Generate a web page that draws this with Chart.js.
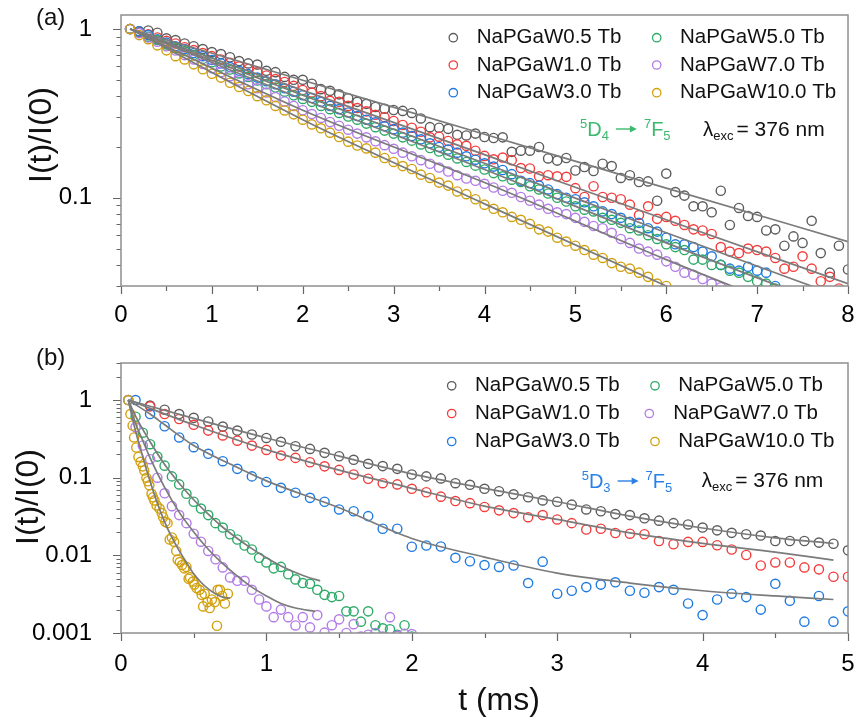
<!DOCTYPE html>
<html>
<head>
<meta charset="utf-8">
<script src="https://cdn.jsdelivr.net/npm/chart.js@4/dist/chart.umd.min.js"></script>
<style>
  html, body { margin: 0; padding: 0; background: #fff; }
  #wrap { position: relative; width: 856px; height: 718px; overflow: hidden; }
  #wrap canvas { position: absolute; left: 0; }
  #cA { top: 0; }
  #cB { top: 330px; }
</style>
</head>
<body>
<div id="wrap">
  <canvas id="cA" width="856" height="330"></canvas>
  <canvas id="cB" width="856" height="388"></canvas>
</div>
<script>
const FONT = '"Liberation Sans", Arial, Helvetica, sans-serif';

const seriesNames = ['NaPGaW0.5 Tb', 'NaPGaW1.0 Tb', 'NaPGaW3.0 Tb', 'NaPGaW5.0 Tb', 'NaPGaW7.0 Tb', 'NaPGaW10.0 Tb'];
const seriesColors = ['#5c5c5c', '#f23d3d', '#1f7ae0', '#2eaa68', '#b27ce6', '#d2a10f'];
const FIT_COLOR = '#7b7b7b';
const FRAME_COLOR = '#8f8f8f';
const TICK_COLOR = '#666666';

// ---------- panel (a): 5D4 -> 7F5 decay, t in ms ----------
const tA = [0.1,0.2,0.3,0.4,0.5,0.6,0.7,0.8,0.9,1.0,
  1.1,1.2,1.3,1.4,1.5,1.6,1.7,1.8,1.9,2.0,
  2.1,2.2,2.3,2.4,2.5,2.6,2.7,2.8,2.9,3.0,
  3.1,3.2,3.3,3.4,3.5,3.6,3.7,3.8,3.9,4.0,
  4.1,4.2,4.3,4.4,4.5,4.6,4.7,4.8,4.9,5.0,
  5.1,5.2,5.3,5.4,5.5,5.6,5.7,5.8,5.9,6.0,
  6.1,6.2,6.3,6.4,6.5,6.6,6.7,6.8,6.9,7.0,
  7.1,7.2,7.3,7.4,7.5,7.6,7.7,7.8,7.9,8.0];

const grayA = [1.00,0.97,0.98,0.95,0.88,0.86,0.82,0.79,0.76,0.73,
  0.71,0.68,0.645,0.625,0.615,0.565,0.555,0.52,0.50,0.50,
  0.474,0.44,0.43,0.41,0.389,0.37,0.36,0.345,0.337,0.331,
  0.327,0.318,0.295,0.262,0.26,0.256,0.236,0.234,0.24,0.229,
  0.226,0.228,0.187,0.19,0.19,0.20,0.171,0.166,0.172,0.145,
  0.152,0.144,0.159,0.154,0.131,0.136,0.124,0.125,0.096,0.139,
  0.108,0.103,0.089,0.089,0.082,0.11,0.069,0.087,0.078,0.077,
  0.064,0.065,0.052,0.059,0.054,0.073,0.047,0.036,0.052,0.0376];

const redA = [1.0,0.96,0.93,0.89,0.85,0.82,0.78,0.75,0.72,0.69,
  0.66,0.63,0.60,0.58,0.555,0.53,0.505,0.485,0.46,0.435,
  0.42,0.40,0.375,0.37,0.35,0.34,0.325,0.31,0.30,0.285,
  0.27,0.26,0.246,0.228,0.23,0.217,0.207,0.203,0.19,0.177,
  0.169,0.173,0.167,0.15,0.149,0.134,0.136,0.134,0.133,0.114,
  0.101,0.117,0.101,0.10,0.098,0.091,0.079,0.089,0.075,0.077,
  0.073,0.069,0.065,0.064,0.061,0.051,0.048,0.047,0.05,0.049,
  0.048,0.044,0.038,0.039,0.045,0.038,0.032,0.034,0.029,0.028];

const blueA = [1.0,0.97,0.92,0.87,0.83,0.79,0.76,0.72,0.69,0.655,
  0.625,0.595,0.565,0.54,0.515,0.49,0.47,0.445,0.425,0.405,
  0.39,0.37,0.35,0.335,0.32,0.305,0.29,0.28,0.265,0.255,
  0.243,0.232,0.222,0.21,0.20,0.193,0.185,0.176,0.168,0.16,
  0.153,0.146,0.138,0.126,0.122,0.118,0.112,0.105,0.10,0.098,
  0.094,0.089,0.083,0.08,0.076,0.072,0.071,0.066,0.063,0.058,
  0.053,0.053,0.051,0.048,0.045,0.04,0.038,0.037,0.039,0.037,
  0.036,0.030,0.028];

const greenA = [1.0,0.95,0.90,0.86,0.81,0.77,0.74,0.70,0.665,0.635,
  0.60,0.575,0.545,0.52,0.495,0.47,0.45,0.425,0.405,0.385,
  0.37,0.35,0.335,0.318,0.303,0.29,0.275,0.262,0.25,0.24,
  0.228,0.218,0.207,0.197,0.188,0.18,0.171,0.163,0.155,0.147,
  0.14,0.134,0.128,0.124,0.117,0.112,0.106,0.10,0.095,0.089,
  0.085,0.083,0.076,0.074,0.071,0.066,0.064,0.06,0.057,0.053,
  0.051,0.049,0.043,0.043,0.04,0.04,0.037,0.036,0.034,0.032,
  0.031,0.029];

const purpleA = [1.0,0.945,0.89,0.84,0.79,0.745,0.70,0.66,0.62,0.585,
  0.555,0.525,0.495,0.47,0.445,0.42,0.395,0.372,0.35,0.33,
  0.313,0.297,0.281,0.267,0.253,0.24,0.228,0.216,0.205,0.195,
  0.185,0.176,0.167,0.159,0.151,0.143,0.136,0.13,0.126,0.121,
  0.115,0.11,0.107,0.101,0.096,0.091,0.086,0.082,0.08,0.076,
  0.072,0.068,0.066,0.062,0.057,0.054,0.05,0.048,0.046,0.042,
  0.039,0.036,0.035,0.033,0.031,0.0295,0.028];

const goldA = [1.0,0.92,0.87,0.80,0.747,0.69,0.66,0.617,0.577,0.543,
  0.515,0.48,0.453,0.429,0.40,0.378,0.35,0.329,0.312,0.29,
  0.272,0.258,0.243,0.229,0.215,0.204,0.196,0.185,0.172,0.163,
  0.154,0.148,0.137,0.131,0.123,0.118,0.109,0.105,0.098,0.091,
  0.086,0.082,0.077,0.074,0.07,0.065,0.063,0.058,0.055,0.052,
  0.049,0.046,0.044,0.041,0.039,0.038,0.036,0.034,0.031,0.030,
  0.028];

// fitted decay curves, panel (a)
const tFitA = [0.1, 2, 4, 6, 8];
const grayFitA = [1, 0.497, 0.238, 0.114, 0.055];
const redFitA = [1, 0.433, 0.180, 0.074, 0.031];
const blueFitA = [1, 0.405, 0.160, 0.062, 0.025];
const greenFitA = [1, 0.383, 0.147, 0.054, 0.021];
const purpleFitA = [1, 0.33, 0.123, 0.043, 0.016];
const goldFitA = [1, 0.29, 0.092, 0.030, 0.010];

// ---------- panel (b): 5D3 -> 7F5 decay ----------
const tB = [0.1,0.2,0.3,0.4,0.5,0.6,0.7,0.8,0.9,1.0,
  1.1,1.2,1.3,1.4,1.5,1.6,1.7,1.8,1.9,2.0,
  2.1,2.2,2.3,2.4,2.5,2.6,2.7,2.8,2.9,3.0,
  3.1,3.2,3.3,3.4,3.5,3.6,3.7,3.8,3.9,4.0,
  4.1,4.2,4.3,4.4,4.5,4.6,4.7,4.8,4.9,5.0];

const grayB = [null,0.85,0.75,0.66,0.59,0.53,0.455,0.404,0.36,0.325,
  0.29,0.254,0.235,0.209,0.189,0.17,0.151,0.141,0.13,0.11,
  0.104,0.098,0.085,0.081,0.072,0.067,0.061,0.056,0.051,0.049,
  0.045,0.039,0.037,0.034,0.033,0.030,0.028,0.026,0.025,0.0228,
  0.021,0.0195,0.0187,0.018,0.0153,0.0153,0.0153,0.0146,0.0141,0.0116];

const redB = [null,0.83,0.66,0.57,0.48,0.404,0.35,0.30,0.259,0.228,
  0.193,0.18,0.158,0.14,0.126,0.11,0.097,0.085,0.082,0.072,
  0.065,0.057,0.05,0.047,0.042,0.038,0.035,0.031,0.033,0.029,
  0.026,0.0215,0.022,0.0194,0.019,0.0187,0.0153,0.0139,0.0149,0.0149,
  0.0135,0.0119,0.0101,0.0074,0.0081,0.0081,0.0070,0.0066,0.0053,0.0053];

const blueB = [1.0,0.66,0.46,0.33,0.247,0.203,0.163,0.13,0.104,0.088,
  0.074,0.064,0.055,0.049,0.039,0.037,0.032,0.022,0.022,0.0129,
  0.0134,0.013,0.0093,0.0084,0.0075,0.0071,0.0074,0.0044,0.0083,0.0032,
  0.0035,0.0039,0.0042,0.0045,0.0035,0.0033,0.0039,0.0036,0.0024,0.0017,
  0.0027,0.0032,0.0029,0.002,0.0043,0.0026,0.0014,0.003,0.0014,0.0019];

const tGP = [0.05,0.10,0.15,0.20,0.25,0.30,0.35,0.40,0.45,0.50,
  0.55,0.60,0.65,0.70,0.75,0.80,0.85,0.90,0.95,1.00,
  1.05,1.10,1.15,1.20,1.25,1.30,1.35,1.40,1.45,1.50,
  1.55,1.60,1.65,1.70,1.75,1.80,1.85,1.90,1.95,2.00];

const greenB = [1.0,0.61,0.38,0.27,0.187,0.143,0.104,0.082,0.062,0.049,
  0.04,0.033,0.026,0.0228,0.0187,0.016,0.0134,0.0119,0.0093,0.0081,
  0.0068,0.0071,0.0057,0.0049,0.0044,0.0043,0.0036,0.0031,0.0029,0.003,
  0.0019,0.0019,0.0014,0.0019,0.00126,0.00115,0.00112,0.00095,0.00126,0.0009];

const purpleB = [1.0,0.445,0.26,0.173,0.10,0.063,0.043,0.033,0.026,0.019,
  0.015,0.0114,0.0089,0.007,0.0052,0.0047,0.0047,0.0036,0.0027,0.0022,
  0.0016,0.002,0.0016,0.00125,0.0016,0.00118,0.0017,0.00101,0.00126,0.0015,
  0.001,0.0013,0.0009,0.00095,0.001,0.0009,0.0016,0.00092,0.00098,0.00097];

const tGoldB = [0.05,0.065,0.08,0.09,0.105,0.12,0.135,0.15,0.16,0.175,
  0.185,0.195,0.21,0.22,0.23,0.245,0.265,0.28,0.29,0.305,
  0.32,0.335,0.35,0.365,0.38,0.39,0.405,0.42,0.435,0.45,
  0.465,0.475,0.495,0.505,0.52,0.54,0.555,0.565,0.575,0.595,
  0.61,0.625,0.645,0.66,0.665,0.68,0.695,0.715,0.735];
const goldB = [1.0,0.66,0.47,0.33,0.245,0.185,0.16,0.14,0.124,0.10,
  0.09,0.08,0.062,0.056,0.051,0.044,0.040,0.035,0.031,0.027,
  0.026,0.016,0.017,0.015,0.0114,0.0088,0.0082,0.0075,0.0068,0.0071,
  0.005,0.0052,0.0046,0.0042,0.0038,0.0036,0.0031,0.0022,0.0032,0.0025,
  0.0021,0.0027,0.0025,0.00124,0.0036,0.0036,0.003,0.0024,0.0032];

// fitted decay curves, panel (b)
const tFitGrayB = [0.05,0.5,1,1.5,2,2.5,3,3.5,4,4.5,4.9];
const grayFitB = [1,0.58,0.325,0.19,0.112,0.073,0.049,0.032,0.0225,0.0168,0.0142];
const tFitRedB = [0.05,0.5,1,1.5,2,2.5,3,3.5,4,4.5,4.9];
const redFitB = [1,0.48,0.23,0.125,0.073,0.043,0.029,0.0195,0.0143,0.011,0.0087];
const tFitBlueB = [0.05,0.2,0.3,0.5,0.75,1,1.5,2,2.5,3,3.5,4,4.5,4.9];
const blueFitB = [1,0.66,0.48,0.26,0.15,0.091,0.041,0.0165,0.0095,0.0059,0.0044,0.0035,0.003,0.0027];
const tFitGreenB = [0.05,0.1,0.2,0.3,0.4,0.5,0.6,0.7,0.8,0.9,1.0,1.1,1.2,1.3,1.37];
const greenFitB = [1,0.62,0.29,0.148,0.085,0.052,0.034,0.023,0.0165,0.0122,0.0093,0.0073,0.006,0.0051,0.0047];
const tFitPurpleB = [0.05,0.1,0.15,0.2,0.3,0.4,0.5,0.6,0.7,0.8,0.9,1.0,1.1,1.2,1.335];
const purpleFitB = [1,0.5,0.3,0.18,0.075,0.036,0.02,0.012,0.0078,0.0054,0.0039,0.003,0.0024,0.0021,0.0019];
const tFitGoldB = [0.05,0.075,0.1,0.15,0.2,0.25,0.3,0.35,0.4,0.45,0.5,0.55,0.6,0.65,0.7,0.75];
const goldFitB = [1,0.62,0.4,0.185,0.09,0.047,0.027,0.017,0.0115,0.0081,0.0058,0.0045,0.0037,0.0032,0.0029,0.0028];

// axis tick labels
const xLabelsA = [0,1,2,3,4,5,6,7,8];
const xLabelsB = [0,1,2,3,4,5];
const yLabelsA = [0.1, 1];
const yLabelsB = [0.001, 0.01, 0.1, 1];

// ---------- helpers ----------
function pts(xs, ys) {
  const out = [];
  ys.forEach((y, i) => { if (y !== null) out.push({ x: xs[i], y }); });
  return out;
}

function scatterSet(idx, xs, ys) {
  const c = seriesColors[idx];
  return {
    label: seriesNames[idx], data: pts(xs, ys), showLine: false,
    pointStyle: 'circle', pointRadius: 4.6, pointBorderWidth: 1.4,
    pointBackgroundColor: 'rgba(0,0,0,0)', pointBorderColor: c,
    borderColor: c, backgroundColor: 'rgba(0,0,0,0)',
    order: 6 - idx, clip: 0
  };
}

function fitSet(xs, ys) {
  return {
    label: '', data: pts(xs, ys), showLine: true, pointRadius: 0,
    borderColor: FIT_COLOR, borderWidth: 1.7, cubicInterpolationMode: 'monotone',
    fill: false, order: 0, clip: 0
  };
}

function richText(ctx, x, base, parts, color) {
  ctx.fillStyle = color; ctx.strokeStyle = color;
  ctx.textAlign = 'left'; ctx.textBaseline = 'alphabetic';
  for (const p of parts) {
    if (p.arrow) {
      x += p.pre;
      const y = base + p.dy;
      ctx.lineWidth = 1.4;
      ctx.beginPath(); ctx.moveTo(x, y); ctx.lineTo(x + p.arrow - 5, y); ctx.stroke();
      ctx.beginPath(); ctx.moveTo(x + p.arrow, y); ctx.lineTo(x + p.arrow - 7, y - 3.5);
      ctx.lineTo(x + p.arrow - 7, y + 3.5); ctx.closePath(); ctx.fill();
      x += p.arrow + p.post;
      continue;
    }
    ctx.font = p.size + 'px ' + FONT;
    ctx.fillText(p.text, x, base + (p.dy || 0));
    x += ctx.measureText(p.text).width + (p.gap || 0);
  }
}

function decorPlugin(cfg) {
  return {
    id: 'decor',
    afterDatasetsDraw(chart) {
      const ctx = chart.ctx, a = chart.chartArea;
      const xs = chart.scales.x, ys = chart.scales.y;
      ctx.save();
      // outward tick marks
      ctx.strokeStyle = TICK_COLOR; ctx.lineWidth = 1.2;
      ctx.beginPath();
      for (let i = 0; i <= cfg.xMax * 2; i++) {
        const px = Math.round(xs.getPixelForValue(i / 2)) + 0.5;
        const len = i % 2 === 0 ? 8 : 5;
        ctx.moveTo(px, a.bottom); ctx.lineTo(px, a.bottom + len);
      }
      for (const d of cfg.decades) {
        for (let m = 1; m <= 9; m++) {
          const v = m * d;
          if (v < ys.min * 0.999 || v > ys.max * 1.001) continue;
          const py = Math.round(ys.getPixelForValue(v)) + 0.5;
          const len = m === 1 ? 8 : 4.5;
          ctx.moveTo(a.left, py); ctx.lineTo(a.left - len, py);
        }
      }
      ctx.stroke();
      // frame
      ctx.strokeStyle = FRAME_COLOR; ctx.lineWidth = 1.5;
      ctx.strokeRect(a.left, a.top, a.right - a.left, a.bottom - a.top);

      // legend in two columns
      ctx.font = '20.5px ' + FONT;
      ctx.textBaseline = 'middle'; ctx.textAlign = 'left';
      cfg.legend.forEach((it, i) => {
        ctx.strokeStyle = seriesColors[i]; ctx.lineWidth = 1.3;
        ctx.beginPath(); ctx.arc(it.mx, it.y, 4.2, 0, Math.PI * 2); ctx.stroke();
        ctx.fillStyle = '#111';
        ctx.fillText(seriesNames[i], it.tx, it.y);
      });

      // transition label and excitation wavelength
      richText(ctx, cfg.trans.x, cfg.trans.base, [
        { text: '5', size: 13, dy: -8 }, { text: 'D', size: 20 }, { text: cfg.trans.sub, size: 13, dy: 4 },
        { arrow: 21, pre: 7, post: 7, dy: -7 },
        { text: '7', size: 13, dy: -8 }, { text: 'F', size: 20 }, { text: '5', size: 13, dy: 4 }
      ], cfg.trans.color);
      richText(ctx, cfg.exc.x, cfg.exc.base, [
        { text: 'λ', size: 20.5 }, { text: 'exc', size: 13, dy: 4, gap: 3 }, { text: '= 376 nm', size: 21 }
      ], '#111');

      // panel letter
      ctx.fillStyle = '#111'; ctx.textBaseline = 'alphabetic'; ctx.textAlign = 'left';
      ctx.font = '24px ' + FONT;
      ctx.fillText(cfg.letter.text, cfg.letter.x, cfg.letter.base);

      // y axis title
      ctx.save();
      ctx.translate(cfg.ytitle.x, cfg.ytitle.y); ctx.rotate(-Math.PI / 2);
      ctx.font = '32px ' + FONT; ctx.textAlign = 'center'; ctx.textBaseline = 'middle';
      ctx.fillText('I(t)/I(0)', 0, 0);
      ctx.restore();

      // x axis title
      if (cfg.xtitle) {
        ctx.font = '32px ' + FONT; ctx.textAlign = 'center'; ctx.textBaseline = 'alphabetic';
        ctx.fillText('t (ms)', cfg.xtitle.x, cfg.xtitle.base);
      }
      ctx.restore();
    }
  };
}

// the plot rectangle is placed by the layout padding and the fixed axis sizes only
function noScalePadding(s) {
  s.paddingTop = 0; s.paddingBottom = 0; s.paddingLeft = 0; s.paddingRight = 0;
}

function makeOptions(o) {
  return {
    responsive: false, animation: false, events: [],
    layout: { padding: { top: o.padTop, right: 8, left: 0, bottom: 0 } },
    plugins: { legend: { display: false }, tooltip: { enabled: false } },
    scales: {
      x: {
        type: 'linear', min: 0, max: o.xMax,
        grid: { display: false }, border: { display: false },
        afterBuildTicks: s => { s.ticks = o.xLabels.map(v => ({ value: v })); },
        ticks: { padding: o.xPad, color: '#000', font: { family: FONT, size: 24 }, maxRotation: 0,
          callback: v => String(v) },
        afterFit: s => { s.height = o.xHeight; noScalePadding(s); }
      },
      y: {
        type: 'logarithmic', min: o.yMin, max: o.yMax,
        grid: { display: false }, border: { display: false },
        afterBuildTicks: s => { s.ticks = o.yLabels.map(v => ({ value: v })); },
        ticks: { padding: 21, color: '#000', font: { family: FONT, size: 24 },
          callback: v => String(v) },
        afterFit: s => { s.width = 121; noScalePadding(s); }
      }
    }
  };
}

Chart.defaults.font.family = FONT;

// ---------- panel (a) ----------
new Chart(document.getElementById('cA'), {
  type: 'scatter',
  data: {
    datasets: [
      scatterSet(0, tA, grayA), scatterSet(1, tA, redA), scatterSet(2, tA, blueA),
      scatterSet(3, tA, greenA), scatterSet(4, tA, purpleA), scatterSet(5, tA, goldA),
      fitSet(tFitA, grayFitA), fitSet(tFitA, redFitA), fitSet(tFitA, blueFitA),
      fitSet(tFitA, greenFitA), fitSet(tFitA, purpleFitA), fitSet(tFitA, goldFitA)
    ]
  },
  options: makeOptions({ padTop: 15, xMax: 8, xLabels: xLabelsA, xPad: 7, xHeight: 44,
    yMin: 0.03, yMax: 1.21, yLabels: yLabelsA }),
  plugins: [decorPlugin({
    xMax: 8, decades: [0.01, 0.1, 1],
    legend: [
      { mx: 453.3, tx: 476.7, y: 37.7 }, { mx: 453.3, tx: 476.7, y: 65 }, { mx: 453.3, tx: 476.7, y: 92.7 },
      { mx: 656.7, tx: 680, y: 37.7 }, { mx: 656.7, tx: 680, y: 65 }, { mx: 656.7, tx: 680, y: 92.7 }
    ],
    trans: { x: 580, base: 136, sub: '4', color: '#3cb96e' },
    exc: { x: 703, base: 135.5 },
    letter: { text: '(a)', x: 36, base: 25 },
    ytitle: { x: 42, y: 135 }
  })]
});

// ---------- panel (b) ----------
new Chart(document.getElementById('cB'), {
  type: 'scatter',
  data: {
    datasets: [
      scatterSet(0, tB, grayB), scatterSet(1, tB, redB), scatterSet(2, tB, blueB),
      scatterSet(3, tGP, greenB), scatterSet(4, tGP, purpleB), scatterSet(5, tGoldB, goldB),
      fitSet(tFitGrayB, grayFitB), fitSet(tFitRedB, redFitB), fitSet(tFitBlueB, blueFitB),
      fitSet(tFitGreenB, greenFitB), fitSet(tFitPurpleB, purpleFitB), fitSet(tFitGoldB, goldFitB)
    ]
  },
  options: makeOptions({ padTop: 33, xMax: 5, xLabels: xLabelsB, xPad: 9, xHeight: 85,
    yMin: 0.001, yMax: 3, yLabels: yLabelsB }),
  plugins: [decorPlugin({
    xMax: 5, decades: [0.001, 0.01, 0.1, 1],
    legend: [
      { mx: 451.7, tx: 475, y: 55.8 }, { mx: 451.7, tx: 475, y: 83.5 }, { mx: 451.7, tx: 475, y: 111.5 },
      { mx: 655, tx: 678.3, y: 55.8 }, { mx: 649.3, tx: 673.3, y: 83.5 }, { mx: 655, tx: 678.3, y: 111.5 }
    ],
    trans: { x: 581.7, base: 158, sub: '3', color: '#2a80e6' },
    exc: { x: 701.7, base: 157 },
    letter: { text: '(b)', x: 36, base: 35 },
    ytitle: { x: 29, y: 167 },
    xtitle: { x: 499, base: 380 }
  })]
});
</script>
</body>
</html>
